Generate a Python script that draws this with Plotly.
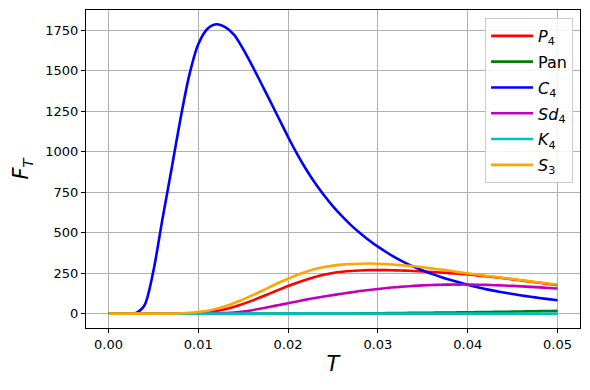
import plotly.graph_objects as go

T = [i / 1000 for i in range(51)]

c4 = [0, 0, 0, 3, 50, 262, 580, 885, 1197, 1472, 1662, 1757, 1786, 1768, 1720,
      1632, 1530, 1422, 1312, 1201, 1090, 986, 891, 806, 730, 662, 601, 546, 497,
      453, 413, 377, 344, 315, 289, 266, 245, 226, 209, 193, 178, 164, 151, 140,
      130, 121, 112, 104, 96, 89, 82]

s3 = [0, 0, 0, 0, 0, 0, 0, 0, 2, 5, 10, 17, 30, 45, 65, 88, 112, 138, 165, 192,
      215, 238, 258, 275, 287, 296, 302, 306, 308, 309, 308, 305, 301, 297, 292,
      286, 279, 272, 264, 256, 248, 241, 234, 227, 220, 213, 206, 199, 192, 186, 179]

p4 = [0, 0, 0, 0, 0, 0, 0, 0, 0, 1, 4, 9, 16, 27, 42, 60, 80, 102, 125, 148,
      170, 190, 209, 226, 240, 251, 258, 263, 266, 268, 268, 268, 267, 265, 263,
      260, 257, 254, 250, 246, 242, 236, 230, 224, 218, 211, 204, 197, 190, 183, 175]

sd4 = [0, 0, 0, 0, 0, 0, 0, 0, 0, 0, 0, 0, 1, 3, 7, 13, 21, 31, 42, 53, 64, 75,
       86, 96, 105, 114, 123, 131, 139, 146, 152, 158, 163, 167, 171, 174, 176,
       178, 179, 179, 179, 178, 177, 175, 173, 171, 168, 165, 162, 158, 155]

pan = [0] * 26 + [0.3, 0.7, 1.1, 1.5, 2, 2.6, 3.2, 3.8, 4.4, 5, 5.6, 6.2, 6.8,
                  7.4, 8, 8.8, 9.6, 10.4, 11.2, 12, 13, 14, 15, 16, 17]

k4 = [0] * 51

series = [
    ("<i>P</i><sub>4</sub>", p4, "red"),
    ("Pan", pan, "green"),
    ("<i>C</i><sub>4</sub>", c4, "blue"),
    ("<i>Sd</i><sub>4</sub>", sd4, "#bf00bf"),
    ("<i>K</i><sub>4</sub>", k4, "#00bfbf"),
    ("<i>S</i><sub>3</sub>", s3, "orange"),
]

fig = go.Figure()
for i, (name, vals, color) in enumerate(series):
    fig.add_trace(go.Scatter(x=T, y=vals, mode="lines", name=name, legendgroup=str(i),
                             line=dict(color=color, width=2.6, shape="spline", smoothing=0.8)))

axis_style = dict(showline=True, linecolor="black", linewidth=1, mirror=True,
                  ticks="outside", ticklen=4, tickcolor="black", automargin=False,
                  showgrid=True, gridcolor="#b0b0b0", gridwidth=1, zeroline=False,
                  tickfont=dict(size=13, color="black"))

fig.update_xaxes(axis_style, range=[-0.0025, 0.0525], tickvals=[0, 0.01, 0.02, 0.03, 0.04, 0.05],
                 tickformat=".2f",
                 title=dict(text="<i>T</i>", font=dict(size=21, color="black"), standoff=5))
fig.update_yaxes(axis_style, range=[-89, 1874], tickvals=list(range(0, 1751, 250)),
                 title=dict(text="<i>F<sub>T</sub></i>", font=dict(size=21, color="black"), standoff=10))

# page body adds an 8px offset, so the figure is 8px smaller and margins shifted
fig.update_layout(
    width=582, height=382,
    margin=dict(l=78, r=10, t=2, b=62),
    plot_bgcolor="white", paper_bgcolor="white",
    font=dict(family="DejaVu Sans", color="black"),
    legend=dict(x=0.986, y=0.975, xanchor="right", yanchor="top",
                bgcolor="rgba(255,255,255,0.85)", bordercolor="#cccccc", borderwidth=1,
                font=dict(size=16), tracegroupgap=2, itemwidth=42),
)

fig.write_html("out.html")
